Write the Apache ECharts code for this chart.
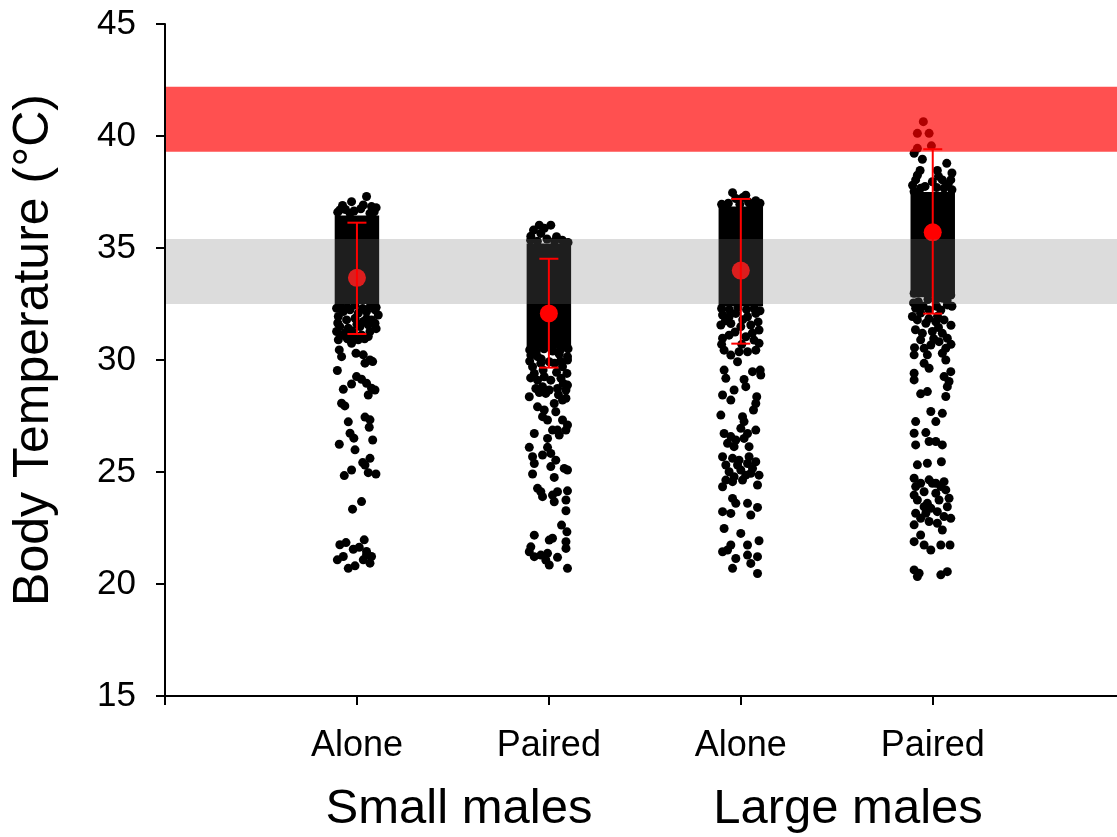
<!DOCTYPE html>
<html>
<head>
<meta charset="utf-8">
<style>
html,body{margin:0;padding:0;background:#fff;}
#chart{width:1117px;height:837px;}
</style>
<script src="https://cdn.jsdelivr.net/npm/echarts@6/dist/echarts.min.js"></script>
</head>
<body>
<div id="chart"></div>
<script>
// ---- data ----
const conditions = ['Alone', 'Paired', 'Alone', 'Paired'];
const groups = ['Small males', 'Large males'];
const positions = [1, 2, 3, 4];
const xTicks = [0, 1, 2, 3, 4];
const xMin = 0, xMax = 4.96;
const yMin = 15, yMax = 45, yStep = 5;

const meanT = [33.67, 32.08, 33.99, 35.70];
const errLow = [31.16, 29.66, 30.73, 32.07];
const errHigh = [36.13, 34.52, 37.19, 39.41];

// dense core of the jittered points (range of temperatures fully covered)
const denseLow = [32.5, 30.5, 32.4, 32.8];
const denseHigh = [36.45, 35.2, 36.85, 37.5];
const jitterHalf = 0.095;

// reference bands
const comfortBand = [32.5, 35.4];
const dangerBand = [39.3, 42.2];

// individual points: [jitter offset, temperature]
const smallAlonePts = [
  [0.050,37.30],[-0.028,37.07],[0.033,36.92],[0.076,36.85],[-0.089,36.70],[-0.036,36.55],[0.068,36.55],
  [-0.100,36.60],[-0.060,36.72],[-0.015,36.65],[0.020,36.75],[0.090,36.62],[0.100,36.80],[-0.075,36.90],
  [-0.085,32.40],[-0.050,32.35],[-0.010,32.45],[0.030,32.30],[0.070,32.40],[0.100,32.35],[-0.100,31.65],
  [0.000,31.60],[0.050,31.85],[-0.025,31.30],[0.100,31.40],[-0.080,31.10],[0.040,30.95],[-0.050,30.95],
  [-0.106,32.31],[-0.071,32.16],[-0.036,32.24],[0.007,32.09],[0.050,32.16],[0.094,32.24],
  [-0.097,31.94],[-0.054,31.79],[-0.010,31.86],[0.033,31.72],[0.076,31.79],[0.111,32.01],
  [-0.089,31.49],[-0.045,31.42],[0.016,31.49],[0.059,31.57],[0.094,31.64],
  [-0.106,31.27],[-0.063,31.19],[-0.019,31.05],[0.024,31.12],[0.068,31.27],[0.007,30.90],[0.059,31.05],
  [-0.097,30.90],[-0.028,30.75],[-0.092,30.45],[-0.080,30.15],[-0.005,30.30],[0.033,30.23],[0.068,30.00],
  [0.082,29.93],[0.042,29.86],[-0.102,29.53],[-0.002,29.26],[0.024,29.14],[0.050,28.96],[0.076,28.74],
  [0.094,28.66],[0.059,28.44],[-0.071,28.69],[-0.028,28.93],[-0.080,28.07],[-0.063,27.95],[0.042,27.45],
  [0.068,27.33],[0.064,27.00],[-0.045,27.24],[-0.036,26.73],[-0.016,26.51],[0.082,26.43],[-0.092,26.24],
  [-0.010,25.99],[0.068,25.61],[0.030,25.42],[0.042,25.31],[0.059,24.97],[0.099,24.91],[-0.066,24.84],
  [-0.028,25.09],[0.024,23.68],[-0.023,23.34],[-0.089,21.75],[-0.057,21.85],[0.038,21.97],[-0.019,21.55],
  [0.012,21.64],[0.050,21.45],[0.076,21.23],[-0.102,21.08],[-0.071,21.23],[0.033,21.08],[0.068,20.93],
  [-0.045,20.70],[-0.010,20.81],[0.050,21.30]
];
const smallPairedPts = [
  [-0.050,36.02],[0.010,36.02],[-0.024,35.88],[-0.094,35.53],[-0.042,35.65],
  [-0.095,35.35],[-0.060,35.30],[-0.010,35.40],[0.030,35.30],[0.070,35.35],[0.100,35.25],[-0.080,35.80],[0.040,35.50],
  [-0.100,30.45],[-0.065,30.40],[-0.025,30.50],[0.020,30.40],[0.060,30.45],[0.100,30.50],[-0.040,30.05],
  [0.030,29.85],[0.060,29.95],[-0.100,29.95],[-0.030,29.55],[0.040,29.45],[-0.095,29.20],[0.075,28.95],
  [-0.050,28.55],[0.050,28.45],
  [-0.094,30.22],[-0.059,30.15],[0.054,30.26],[0.097,30.15],[-0.085,29.70],[-0.042,29.85],[0.002,29.92],
  [0.071,29.70],[0.097,30.00],[-0.076,29.40],[-0.024,29.25],[0.010,29.10],[0.063,29.18],[0.094,29.40],
  [-0.102,28.36],[-0.068,28.73],[-0.033,28.81],[0.002,28.66],[0.045,28.73],[0.089,28.66],[0.097,28.88],
  [-0.059,29.10],[0.028,28.06],[0.071,28.21],[0.089,28.29],[-0.016,28.51],
  [-0.059,27.91],[-0.024,27.77],[0.036,27.69],[-0.033,27.47],[-0.007,27.32],[0.071,27.32],[0.097,27.10],
  [0.089,26.87],[0.019,26.87],[0.045,26.87],[-0.076,26.72],[0.054,26.65],[-0.007,26.50],[-0.102,26.10],
  [-0.007,26.10],[-0.033,25.76],[0.010,25.83],[0.036,25.53],[-0.085,25.68],[-0.076,25.38],[0.010,25.24],
  [0.080,25.16],[0.097,25.09],[-0.085,24.91],[0.028,24.76],[-0.059,24.27],[-0.042,24.12],[-0.033,23.90],
  [0.019,23.97],[0.045,24.12],[0.028,23.67],[0.097,24.16],[0.089,23.75],[0.089,23.27],[0.066,22.63],
  [0.094,22.33],[-0.076,22.18],[0.002,21.96],[0.019,22.04],[0.089,21.89],[-0.094,21.66],[-0.102,21.44],
  [0.089,21.59],[-0.076,21.22],[-0.042,21.29],[-0.007,21.37],[0.045,21.19],[0.002,20.85],[0.097,20.70],
  [-0.016,21.07]
];
const largeAlonePts = [
  [-0.043,37.47],[0.026,37.36],[0.078,37.11],[-0.095,36.92],[-0.026,37.21],[0.052,36.84],
  [-0.100,36.95],[-0.065,37.00],[-0.005,36.95],[0.040,37.05],[0.085,36.90],[0.100,37.00],[0.010,37.25],
  [-0.100,32.30],[-0.060,32.25],[-0.015,32.35],[0.030,32.25],[0.070,32.30],[0.100,32.20],[-0.080,31.75],
  [0.010,31.80],[0.090,31.70],[-0.030,31.25],[0.060,31.20],[-0.100,30.70],[0.095,30.75],[0.005,30.70],
  [-0.095,32.01],[-0.061,31.93],[-0.026,32.08],[0.035,31.93],[0.078,32.08],[-0.104,31.56],[-0.052,31.63],
  [0.000,31.49],[0.052,31.56],[0.095,31.34],[-0.095,30.97],[-0.061,31.11],[0.026,31.04],[0.069,30.89],
  [-0.087,30.44],[-0.052,30.22],[-0.009,30.37],[0.035,30.37],[0.078,30.44],[-0.017,29.92],
  [-0.087,29.55],[-0.078,29.18],[0.061,29.48],[0.101,29.55],[0.104,29.33],[0.017,29.13],[-0.035,28.66],
  [-0.052,28.21],[0.026,28.81],[-0.095,28.44],[0.083,28.36],[0.078,28.06],[0.066,27.77],[-0.104,27.54],
  [0.009,27.47],[0.017,27.25],[0.000,26.95],[-0.087,26.72],[-0.052,26.58],[-0.026,26.43],[0.035,26.72],
  [0.078,26.87],[-0.035,26.13],[0.017,26.50],[-0.095,25.68],[-0.043,25.61],[0.043,25.68],[-0.078,25.31],
  [-0.017,25.31],[0.035,25.38],[0.078,25.46],[-0.061,25.01],[0.000,25.09],[0.052,24.94],[0.095,24.86],
  [-0.095,24.34],[-0.043,24.57],[0.009,24.64],[0.087,24.42],[-0.043,23.82],[-0.026,23.60],[0.035,23.60],
  [0.087,23.42],[-0.095,23.23],[-0.052,23.15],[0.052,23.08],[-0.087,22.48],[0.000,22.26],[0.095,21.93],
  [-0.052,21.74],[0.035,21.74],[-0.095,21.44],[-0.026,21.14],[0.035,21.29],[0.087,21.22],[-0.043,20.70],
  [0.087,20.47],[0.052,20.92],[-0.069,21.52],
  [-0.069,26.28],[0.043,26.13],[-0.009,25.53],[0.061,25.16],[-0.035,24.79],[0.026,24.86],[-0.078,24.64]
];
const largePairedPts = [
  [-0.049,40.64],[-0.080,40.12],[-0.019,40.12],[-0.080,39.45],[-0.007,39.56],
  [-0.097,39.23],[-0.054,38.96],[0.073,38.78],[-0.066,38.46],[0.024,38.46],[-0.089,38.04],[0.050,38.04],
  [0.094,38.04],[-0.097,37.52],[-0.063,37.67],[-0.002,37.96],[0.059,37.67],
  [-0.105,37.80],[-0.040,37.75],[0.020,37.70],[0.080,37.85],[0.100,37.60],[-0.080,38.25],[0.030,38.20],[0.100,38.35],
  [-0.075,32.60],[-0.025,32.70],[0.075,32.65],[0.100,32.40],[-0.100,32.55],[0.020,32.40],[-0.050,32.40],
  [0.025,31.95],[-0.020,31.85],[0.095,31.55],[0.030,31.45],[-0.090,31.35],[0.005,30.95],[0.095,30.70],[-0.095,30.55],
  [-0.097,32.98],[-0.045,33.05],[0.016,32.68],[0.050,32.76],[0.094,32.90],[-0.089,32.31],[-0.063,32.09],
  [-0.019,32.23],[0.042,32.23],[0.076,32.46],[-0.080,31.79],[-0.036,31.64],[0.016,31.71],[0.059,31.79],
  [-0.106,31.94],[-0.054,31.19],[-0.002,31.27],[0.050,31.19],[0.076,30.97],[-0.063,30.90],[-0.010,30.67],
  [0.033,30.82],[-0.045,30.52],[0.068,30.52],
  [-0.097,30.23],[-0.028,30.23],[0.050,30.30],[0.068,30.00],[-0.045,29.85],[-0.019,29.63],[-0.097,29.41],
  [-0.097,29.11],[0.059,29.26],[0.094,29.48],[0.085,29.04],[0.076,28.81],[-0.063,28.49],[-0.028,28.59],
  [0.068,28.37],[-0.010,27.70],[0.050,27.62],[0.016,27.25],[-0.089,27.25],[-0.097,26.73],[-0.036,26.76],
  [-0.089,26.21],[-0.019,26.36],[0.016,26.36],[0.050,26.21],[-0.080,25.32],[-0.028,25.39],[0.045,25.46],
  [-0.097,24.72],[-0.089,24.35],[-0.019,24.65],[-0.002,24.50],[-0.045,24.12],[0.016,24.05],[0.068,24.20],
  [-0.080,23.75],[-0.028,23.60],[0.033,23.75],[0.085,23.83],[-0.089,23.16],[-0.036,23.16],[0.024,23.23],
  [0.094,22.93],[-0.097,22.64],[-0.019,22.79],[0.059,23.01],[0.050,22.41],[-0.063,22.19],[-0.097,21.89],
  [-0.045,21.74],[-0.010,21.52],[0.042,21.74],[0.090,21.74],[-0.097,20.63],[-0.071,20.48],[0.042,20.41],
  [0.076,20.55],[-0.080,20.33],
  [-0.063,24.50],[0.042,24.35],[0.076,23.45],[-0.010,23.38],[-0.063,22.93],[0.024,22.71],[-0.097,23.97],
  [0.059,24.57],[-0.045,23.45],[0.016,24.50]
];
const allPts = [smallAlonePts, smallPairedPts, largeAlonePts, largePairedPts];

// ---- build ----
const pointData = [];
allPts.forEach((pts, i) => pts.forEach(p => pointData.push([positions[i] + p[0], p[1]])));
const denseData = positions.map((x, i) => [x, denseLow[i], denseHigh[i]]);
const meanData = positions.map((x, i) => [x, meanT[i]]);
const errData = positions.map((x, i) => [x, errLow[i], errHigh[i]]);
const bandData = [[0, comfortBand[0], comfortBand[1]], [0, dangerBand[0], dangerBand[1]]];
const bandColors = ['rgba(118,118,118,0.255)', 'rgba(255,0,0,0.686)'];

const FONT = '"Liberation Sans", Arial, Helvetica, sans-serif';
const chart = echarts.init(document.getElementById('chart'), null, {renderer: 'canvas'});

chart.setOption({
  animation: false,
  backgroundColor: '#fff',
  grid: {left: 165, right: 0, top: 24, bottom: 141, containLabel: false},
  xAxis: {
    type: 'value', min: xMin, max: xMax, interval: 1,
    splitLine: {show: false},
    axisLine: {show: true, onZero: false, lineStyle: {color: '#000', width: 2}},
    axisTick: {show: true, inside: false, length: 9, customValues: xTicks, lineStyle: {color: '#000', width: 2}},
    axisLabel: {
      show: true, margin: 32, color: '#000', fontSize: 36, fontFamily: FONT,
      customValues: positions,
      formatter: v => conditions[Math.round(v) - 1] || ''
    }
  },
  yAxis: {
    type: 'value', min: yMin, max: yMax, interval: yStep,
    splitLine: {show: false},
    axisLine: {show: true, onZero: false, lineStyle: {color: '#000', width: 2}},
    axisTick: {show: true, inside: false, length: 9, lineStyle: {color: '#000', width: 2}},
    axisLabel: {show: true, margin: 29, color: '#000', fontSize: 35, fontFamily: FONT}
  },
  graphic: [
    {type: 'text', x: 34, y: 350, rotation: Math.PI / 2,
     style: {text: 'Body Temperature (°C)', font: '50px ' + FONT, fill: '#000', align: 'center', verticalAlign: 'middle'}},
    {type: 'text', x: 459, y: 809,
     style: {text: groups[0], font: '49px ' + FONT, fill: '#000', align: 'center', verticalAlign: 'middle'}},
    {type: 'text', x: 848, y: 809,
     style: {text: groups[1], font: '49px ' + FONT, fill: '#000', align: 'center', verticalAlign: 'middle'}}
  ],
  series: [
    {
      type: 'custom', name: 'dense', z: 2,
      data: denseData,
      renderItem: (params, api) => {
        const x = api.value(0), lo = api.value(1), hi = api.value(2);
        const p1 = api.coord([x - jitterHalf, hi]);
        const p2 = api.coord([x + jitterHalf, lo]);
        return {type: 'rect', shape: {x: p1[0] - 4, y: p1[1], width: p2[0] - p1[0] + 8, height: p2[1] - p1[1]},
                style: {fill: '#000'}};
      }
    },
    {
      type: 'scatter', name: 'points', z: 2, symbol: 'circle', symbolSize: 9,
      itemStyle: {color: '#000', opacity: 1}, data: pointData, silent: true
    },
    {
      type: 'scatter', name: 'mean', z: 3, symbol: 'circle', symbolSize: 18,
      itemStyle: {color: '#ff0000', opacity: 1}, data: meanData
    },
    {
      type: 'custom', name: 'bands', z: 4,
      data: bandData,
      renderItem: (params, api) => {
        const cs = params.coordSys;
        const top = api.coord([0, api.value(2)])[1];
        const bot = api.coord([0, api.value(1)])[1];
        return {type: 'rect', shape: {x: cs.x + 1, y: top, width: cs.width, height: bot - top},
                style: {fill: bandColors[params.dataIndex]}};
      }
    },
    {
      type: 'custom', name: 'errorbars', z: 5,
      data: errData,
      renderItem: (params, api) => {
        const x = api.value(0);
        const lo = api.coord([x, api.value(1)]);
        const hi = api.coord([x, api.value(2)]);
        const cap = 9.5;
        const st = {stroke: '#ff0000', lineWidth: 2};
        return {type: 'group', children: [
          {type: 'line', shape: {x1: lo[0], y1: lo[1], x2: hi[0], y2: hi[1]}, style: st},
          {type: 'line', shape: {x1: hi[0] - cap, y1: hi[1], x2: hi[0] + cap, y2: hi[1]}, style: st},
          {type: 'line', shape: {x1: lo[0] - cap, y1: lo[1], x2: lo[0] + cap, y2: lo[1]}, style: st}
        ]};
      }
    }
  ]
});
</script>
</body>
</html>
